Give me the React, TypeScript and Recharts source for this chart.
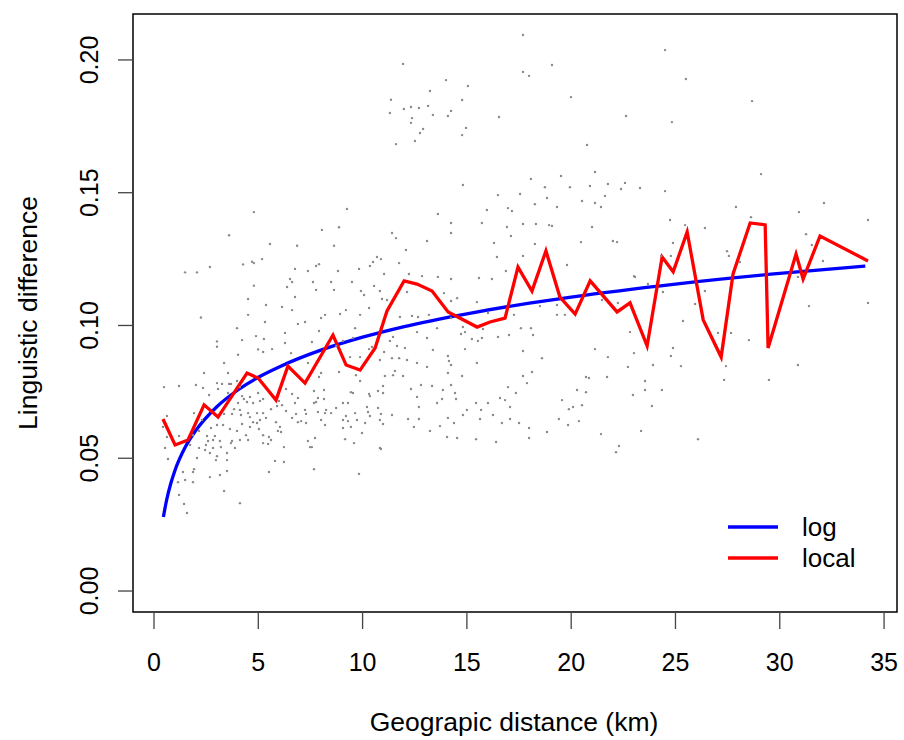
import { ComposedChart, Scatter, Line, XAxis, YAxis, ReferenceArea, Customized } from 'recharts'

const FONT = '"Liberation Sans", Arial, Helvetica, sans-serif'

// axis setup (R style: 4% padding around data)
const X_MIN = -1.007
const X_MAX = 35.62
const Y_MIN = -0.0079
const Y_MAX = 0.2173
const xTicks = [0, 5, 10, 15, 20, 25, 30, 35]
const yTicks = [0, 0.05, 0.1, 0.15, 0.2]

// grey points: [km, linguistic difference]
const pointsUpperLeft: [number, number][] = [
  [3.6, 0.134], [5.18, 0.125], [4.7, 0.124], [4.79, 0.1235], [4.27, 0.123], [2.68, 0.122], [1.49, 0.12], [2.06, 0.12],
  [4.79, 0.115], [4.51, 0.11], [2.25, 0.103], [4.51, 0.104], [3.98, 0.099], [4.89, 0.096], [4.22, 0.0945], [3.02, 0.094],
  [3.02, 0.092], [4.03, 0.089], [4.99, 0.091], [5.23, 0.09], [4.79, 0.1427], [9.25, 0.1439], [8.05, 0.136], [8.87, 0.137],
  [5.56, 0.1307], [6.86, 0.13], [8.63, 0.13], [11.41, 0.1348], [11.36, 0.185], [11.31, 0.18],
  [10.69, 0.1258], [10.88, 0.125], [10.5, 0.1239], [10.35, 0.1224], [7.77, 0.1224], [7.91, 0.1231], [6.76, 0.1213],
  [7.38, 0.1205], [8.82, 0.1205], [9.83, 0.1213], [11.03, 0.1194], [6.52, 0.1175], [6.62, 0.1164], [7.62, 0.1164],
  [8.49, 0.1164], [9.49, 0.1164], [10.55, 0.1149], [6.38, 0.1145], [7.77, 0.1134], [8.63, 0.1134], [9.92, 0.113],
  [10.07, 0.1115], [10.83, 0.113], [6.76, 0.1107], [10.93, 0.11], [11.17, 0.1096], [5.37, 0.1077], [6.14, 0.107],
  [6.62, 0.1058], [10.31, 0.1066], [9.2, 0.1058], [8.2, 0.104], [8.01, 0.1028], [8.92, 0.1043], [9.88, 0.104],
  [5.32, 0.1013], [7.24, 0.1013], [6.9, 0.1006], [7.91, 0.0979], [9.64, 0.099], [6.28, 0.0972], [5.27, 0.0949],
  [5.66, 0.0911], [6.28, 0.0934], [7.57, 0.0938], [9.06, 0.0942], [10.45, 0.0919], [10.31, 0.0911], [6.57, 0.0896],
  [9.4, 0.0881], [9.88, 0.0881], [9.54, 0.0953], [8.73, 0.0923],
]

const pointsLowerLeft: [number, number][] = [
  [3.36, 0.0859], [2.4, 0.0821], [3.55, 0.0821], [0.48, 0.0768], [1.2, 0.0772], [2.01, 0.0776], [2.35, 0.0765],
  [3.02, 0.0783], [3.26, 0.078], [3.6, 0.078], [3.69, 0.078], [3.98, 0.0791], [4.12, 0.0768], [3.07, 0.0761],
  [2.64, 0.0738], [4.99, 0.0746], [3.55, 0.0746], [4.6, 0.0731], [4.22, 0.0734], [4.31, 0.0723], [4.03, 0.0708],
  [4.46, 0.0712], [4.75, 0.0708], [5.08, 0.0716], [1.92, 0.067], [3.84, 0.0685], [4.12, 0.0682], [4.51, 0.067],
  [4.94, 0.067], [0.62, 0.0659], [3.36, 0.0667], [3.74, 0.0667], [4.17, 0.0663], [4.6, 0.0655], [2.3, 0.0644],
  [4.75, 0.0636], [4.94, 0.0633], [3.02, 0.0625], [3.31, 0.0625], [5.08, 0.0644], [0.43, 0.0618], [4.22, 0.0629],
  [2.73, 0.0614], [3.64, 0.061], [3.98, 0.0603], [4.6, 0.0618], [5.03, 0.061], [2.16, 0.0603], [1.87, 0.0587],
  [1.2, 0.0584], [2.54, 0.0584], [2.92, 0.0584], [4.41, 0.0587], [0.62, 0.058], [2.59, 0.0565], [2.83, 0.0569],
  [3.16, 0.0565], [3.74, 0.0565], [3.69, 0.0557], [4.12, 0.0569], [4.51, 0.0569], [1.73, 0.055], [2.49, 0.055],
  [2.83, 0.0539], [3.21, 0.0542], [3.88, 0.0539], [0.53, 0.0539], [2.16, 0.0539], [2.45, 0.0531], [3.5, 0.052],
  [2.68, 0.052], [3.02, 0.0508], [2.06, 0.0501], [0.67, 0.0497], [3.5, 0.0493], [2.97, 0.0493], [3.5, 0.0452],
  [1.92, 0.0459], [1.87, 0.0448], [1.39, 0.0448], [3.16, 0.0437], [2.68, 0.0429], [1.15, 0.041], [1.49, 0.0418],
  [1.87, 0.041], [3.36, 0.0377], [1.2, 0.0362], [1.44, 0.0328], [4.12, 0.0331], [1.58, 0.0294],
  [7.38, 0.0859], [7.91, 0.0806], [8.01, 0.0821], [8.87, 0.0825], [9.68, 0.0813], [9.88, 0.0791], [11.07, 0.081],
  [6.33, 0.0761], [6.62, 0.0742], [6.9, 0.0727], [7.67, 0.0753], [8.15, 0.0757], [9.44, 0.0749], [9.54, 0.0746],
  [10.31, 0.0742], [10.35, 0.0734], [10.74, 0.0753], [10.98, 0.0746], [5.23, 0.0723], [5.99, 0.0716], [6.14, 0.07],
  [5.9, 0.0697], [6.33, 0.0678], [5.61, 0.0685], [6.76, 0.0708], [7.86, 0.0727], [7.77, 0.0712], [7.67, 0.0708],
  [8.15, 0.0723], [9.06, 0.0708], [9.3, 0.0708], [10.21, 0.0693], [10.74, 0.0689], [5.23, 0.067], [6.81, 0.0667],
  [7.24, 0.0682], [7.29, 0.0667], [7.86, 0.0674], [8.2, 0.067], [8.25, 0.0682], [8.49, 0.067], [8.73, 0.0689],
  [9.2, 0.0659], [9.64, 0.067], [10.26, 0.0674], [10.88, 0.0667], [5.37, 0.0652], [5.85, 0.0636], [6.62, 0.0652],
  [6.9, 0.0636], [7.05, 0.064], [7.29, 0.0633], [8.01, 0.0644], [8.2, 0.0625], [9.06, 0.0644], [9.3, 0.064],
  [9.73, 0.0644], [10.12, 0.0633], [10.35, 0.0659], [10.83, 0.0644], [10.98, 0.0629], [6.04, 0.0618], [6.09, 0.0599],
  [5.94, 0.0603], [9.06, 0.0614], [9.44, 0.0618], [9.97, 0.0595], [5.23, 0.0587], [5.51, 0.058], [5.61, 0.0569],
  [5.23, 0.0557], [5.47, 0.0554], [6.23, 0.0542], [7.38, 0.0565], [7.72, 0.0576], [9.16, 0.0572], [9.59, 0.0557],
  [7.48, 0.0542], [7.57, 0.0542], [10.88, 0.0535], [5.8, 0.049], [6.23, 0.0486], [7.67, 0.0459], [5.51, 0.0448],
  [9.83, 0.0441],
]

const pointsMiddle: [number, number][] = [
  [17.69, 0.2094], [11.94, 0.1985], [19.08, 0.1981], [17.69, 0.1955], [17.98, 0.194], [14.0, 0.1924], [15.05, 0.1902],
  [13.23, 0.1883], [14.77, 0.1849], [19.99, 0.186], [11.98, 0.1815], [12.32, 0.1823], [12.7, 0.1819], [13.14, 0.1827],
  [12.37, 0.1781], [13.37, 0.1793], [14.09, 0.1789], [14.24, 0.1808], [16.54, 0.1785], [22.63, 0.1789], [12.32, 0.1763],
  [12.9, 0.174], [12.75, 0.1725], [14.96, 0.1744], [14.77, 0.1717], [12.51, 0.1695], [11.6, 0.1683], [20.76, 0.168],
  [14.81, 0.1529], [18.07, 0.1552], [19.51, 0.1563], [21.14, 0.1578], [16.49, 0.1491], [17.55, 0.1495], [18.74, 0.1521],
  [19.94, 0.1521], [20.9, 0.1525], [21.76, 0.1533], [22.39, 0.1514], [22.58, 0.1537], [23.3, 0.1518], [20.52, 0.1469],
  [18.84, 0.148], [21.14, 0.1461], [21.43, 0.1446], [21.62, 0.1488], [18.26, 0.1457], [19.32, 0.1446], [15.96, 0.1435],
  [16.97, 0.1442], [17.16, 0.1431], [13.61, 0.142], [14.24, 0.1386], [14.24, 0.1348], [15.72, 0.1386], [17.69, 0.1382],
  [18.31, 0.1382], [18.94, 0.1378], [19.08, 0.1375], [16.92, 0.1371], [21.0, 0.1371], [11.6, 0.1329], [13.09, 0.1318],
  [17.11, 0.1337], [16.3, 0.1311], [20.47, 0.1314], [22.0, 0.1318], [22.2, 0.1314], [18.26, 0.1307], [12.08, 0.1284],
  [11.75, 0.1235], [16.44, 0.1258], [17.69, 0.1262], [19.8, 0.1228], [12.22, 0.1194], [12.85, 0.1186], [13.61, 0.1183],
  [14.24, 0.1175], [16.87, 0.1205], [23.06, 0.1183], [15.58, 0.1179], [16.2, 0.1175], [12.13, 0.1126], [13.9, 0.1122],
  [21.48, 0.1096], [14.24, 0.1092], [14.53, 0.1103], [15.48, 0.1088], [18.5, 0.1073], [19.32, 0.1077],
  [11.79, 0.1032], [12.37, 0.1036], [12.66, 0.1032], [13.18, 0.104], [14.24, 0.1028], [16.01, 0.1047], [17.26, 0.104],
  [19.32, 0.104], [19.7, 0.104], [22.24, 0.1085], [12.61, 0.0975], [13.57, 0.099], [14.72, 0.0968], [14.91, 0.0975],
  [14.81, 0.0994], [15.77, 0.0987], [16.49, 0.0957], [17.02, 0.0964], [17.59, 0.099], [18.07, 0.099], [18.17, 0.0964],
  [15.24, 0.0949], [15.53, 0.0942], [15.72, 0.0953], [11.46, 0.0957], [11.31, 0.0942], [13.09, 0.0953], [22.82, 0.0975],
  [11.65, 0.0923], [12.03, 0.0915], [11.03, 0.09], [13.37, 0.0908], [14.91, 0.0911], [17.69, 0.0904], [21.14, 0.0911],
  [21.76, 0.0881], [23.01, 0.0896], [10.83, 0.087], [11.41, 0.0877], [11.75, 0.0877], [12.13, 0.087], [12.61, 0.0859],
  [14.09, 0.0885], [14.14, 0.0866], [14.24, 0.0851], [15.48, 0.0859], [18.6, 0.0877], [13.09, 0.0844], [11.55, 0.0829],
  [11.46, 0.0813], [11.94, 0.081], [14.09, 0.0821], [14.77, 0.081], [17.69, 0.081], [18.12, 0.0825], [17.88, 0.0783],
  [20.71, 0.0806], [20.85, 0.0802], [21.72, 0.0806], [22.72, 0.0844], [10.98, 0.0772], [12.32, 0.0761], [12.8, 0.0776],
  [13.33, 0.0772], [13.85, 0.0757], [14.24, 0.0776], [14.43, 0.0746], [14.48, 0.0723], [16.97, 0.0768], [17.35, 0.0746],
  [20.28, 0.0757], [20.71, 0.0749], [22.96, 0.0738], [12.61, 0.0731], [12.7, 0.0693], [13.57, 0.0708], [13.81, 0.0723],
  [15.44, 0.0708], [16.01, 0.0708], [16.59, 0.0727], [16.83, 0.0719], [17.07, 0.0693], [19.56, 0.0719], [19.89, 0.0685],
  [20.09, 0.0693], [20.52, 0.07], [15.0, 0.0682], [14.81, 0.0663], [15.68, 0.0682], [11.41, 0.0663], [12.18, 0.0648],
  [12.7, 0.0648], [14.09, 0.0652], [14.38, 0.0633], [15.63, 0.0648], [16.25, 0.0663], [17.07, 0.0648], [16.68, 0.0633],
  [17.5, 0.0633], [19.41, 0.0648], [20.37, 0.064], [12.46, 0.0618], [13.23, 0.0603], [13.71, 0.0621], [17.98, 0.0614],
  [19.85, 0.0625], [18.84, 0.0599], [14.05, 0.058], [14.53, 0.0576], [15.44, 0.0572], [16.4, 0.0561], [17.98, 0.0576],
  [21.43, 0.0591], [22.29, 0.0546], [22.15, 0.0523], [10.83, 0.0539],
]

const pointsRight: [number, number][] = [
  [24.5, 0.2037], [25.5, 0.1928], [28.67, 0.1845], [24.83, 0.1766], [29.1, 0.157], [24.5, 0.1506], [27.9, 0.1446],
  [30.92, 0.1427], [32.12, 0.1461], [28.62, 0.1408], [24.74, 0.1397], [25.46, 0.1378], [26.41, 0.1367], [34.23, 0.1397],
  [24.88, 0.1311], [31.26, 0.1344], [31.54, 0.1303], [27.47, 0.128], [27.56, 0.1262], [24.31, 0.1262], [24.78, 0.1262],
  [32.07, 0.1243], [28.09, 0.1239], [23.01, 0.1186], [23.68, 0.1156], [24.4, 0.1126], [26.41, 0.113], [30.87, 0.1183],
  [25.94, 0.1081], [31.4, 0.1073], [34.23, 0.1085], [25.36, 0.1017], [27.04, 0.0972], [27.66, 0.0972], [28.52, 0.0945],
  [24.88, 0.0915], [24.78, 0.0885], [23.92, 0.0851], [25.26, 0.0847], [27.42, 0.0847], [30.87, 0.0851], [23.54, 0.0791],
  [27.33, 0.0795], [29.48, 0.0795], [23.54, 0.0757], [24.35, 0.0757], [23.87, 0.0697], [23.35, 0.0603], [26.08, 0.0572],
]

// log fit curve
const logKm = [0.45, 0.6, 0.8, 1, 1.5, 2, 3, 4, 5, 6, 8, 10, 12, 15, 18, 20, 25, 30, 34.1]
const logDiff = [0.0279, 0.0341, 0.0404, 0.0453, 0.0542, 0.0604, 0.0693, 0.0756, 0.0805, 0.0844, 0.0907, 0.0956,
  0.0996, 0.1044, 0.1084, 0.1107, 0.1156, 0.1196, 0.1224]

// local (binned) means
const localKm = [0.43, 1.01, 1.63, 2.4, 3.07, 4.46, 4.99, 5.85, 6.42, 7.24, 8.58, 9.21, 9.88, 10.6, 11.17, 11.99,
  12.61, 13.33, 14.1, 15.49, 16.11, 16.83, 17.45, 18.12, 18.79, 19.46, 20.19, 20.91, 22.2, 22.82, 23.64, 24.36, 24.89,
  25.56, 26.33, 27.19, 27.76, 28.58, 29.3, 29.44, 30.78, 31.12, 31.93, 34.23]
const localDiff = [0.0648, 0.055, 0.0569, 0.0701, 0.0655, 0.0821, 0.0802, 0.0719, 0.0847, 0.0783, 0.0964, 0.0851,
  0.0832, 0.0915, 0.1055, 0.1168, 0.1156, 0.113, 0.1051, 0.0994, 0.1013, 0.1028, 0.122, 0.113, 0.1281, 0.1107, 0.1043,
  0.1168, 0.1051, 0.1085, 0.0923, 0.1258, 0.1202, 0.1352, 0.1021, 0.0881, 0.1194, 0.1386, 0.1379, 0.0915, 0.1269,
  0.1175, 0.1337, 0.1243]

const scatterData = [...pointsUpperLeft, ...pointsLowerLeft, ...pointsMiddle, ...pointsRight].map(([x, y]) => ({ x, y }))
const logData = logKm.map((x, i) => ({ x, y: logDiff[i] }))
const localData = localKm.map((x, i) => ({ x, y: localDiff[i] }))

function Dot(props: any) {
  if (props.cx == null || props.cy == null) return null
  return <circle cx={props.cx} cy={props.cy} r={1.2} fill="#8a8a8a" />
}

function YTick({ x, y, payload }: any) {
  return (
    <text
      x={x}
      y={y}
      transform={`rotate(-90 ${x} ${y})`}
      textAnchor="middle"
      fontSize={25}
      fontFamily={FONT}
      fill="#000"
    >
      {Number(payload.value).toFixed(2)}
    </text>
  )
}

function Extras() {
  return (
    <g fontFamily={FONT} fill="#000">
      {/* axis titles */}
      <text x={514} y={731} textAnchor="middle" fontSize={26.5}>
        Geograpic distance (km)
      </text>
      <text x={37} y={313} textAnchor="middle" fontSize={26.5} transform="rotate(-90 37 313)">
        Linguistic difference
      </text>
      {/* legend */}
      <line x1={728} x2={778} y1={527} y2={527} stroke="#0000ff" strokeWidth={3.3} />
      <line x1={728} x2={778} y1={558} y2={558} stroke="#ff0000" strokeWidth={3.3} />
      <text x={802} y={536} fontSize={26}>log</text>
      <text x={802} y={567} fontSize={26}>local</text>
    </g>
  )
}

export default function App() {
  return (
    <div style={{ position: 'absolute', left: 0, top: 0, width: 904, height: 740, background: '#fff' }}>
      <ComposedChart width={904} height={740} margin={{ top: 14, right: 7, bottom: 0, left: 0 }}>
        <XAxis
          type="number"
          dataKey="x"
          domain={[X_MIN, X_MAX]}
          ticks={xTicks}
          interval={0}
          allowDataOverflow
          axisLine={false}
          tickLine={{ stroke: '#444', strokeWidth: 1.3 }}
          tickSize={17}
          tickMargin={24}
          height={128}
          tick={{ fontSize: 25, fill: '#000', fontFamily: FONT }}
        />
        <YAxis
          type="number"
          dataKey="y"
          domain={[Y_MIN, Y_MAX]}
          ticks={yTicks}
          interval={0}
          allowDataOverflow
          axisLine={false}
          tickLine={{ stroke: '#444', strokeWidth: 1.3 }}
          tickSize={15}
          tickMargin={20}
          width={133}
          tick={<YTick />}
        />
        <Scatter data={scatterData} dataKey="y" shape={<Dot />} isAnimationActive={false} />
        <Line
          data={logData}
          dataKey="y"
          type="monotone"
          stroke="#0000ff"
          strokeWidth={3.3}
          dot={false}
          activeDot={false}
          isAnimationActive={false}
        />
        <Line
          data={localData}
          dataKey="y"
          type="linear"
          stroke="#ff0000"
          strokeWidth={3.3}
          dot={false}
          activeDot={false}
          isAnimationActive={false}
        />
        <ReferenceArea
          x1={X_MIN}
          x2={X_MAX}
          y1={Y_MIN}
          y2={Y_MAX}
          fill="none"
          stroke="#000"
          strokeWidth={1.5}
          ifOverflow="visible"
        />
        <Customized component={Extras} />
      </ComposedChart>
    </div>
  )
}
